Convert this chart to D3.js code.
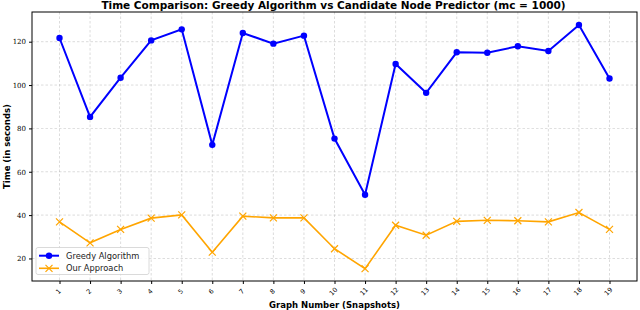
<!DOCTYPE html>
<html><head><meta charset="utf-8">
<script src="https://cdn.jsdelivr.net/npm/d3@7"></script>
<style>body{margin:0;background:#fff}svg{display:block}</style>
</head><body>
<svg id="c" width="640" height="310"></svg>
<script>
const graphs = [1,2,3,4,5,6,7,8,9,10,11,12,13,14,15,16,17,18,19];
const greedy = [121.7,85.3,103.4,120.6,125.7,72.4,124.0,119.1,122.8,75.3,49.4,109.7,96.4,115.1,114.9,117.9,115.7,127.7,103.0];
const ours = [36.9,27.2,33.4,38.6,40.1,22.9,39.5,38.7,38.7,24.5,15.3,35.3,30.7,37.1,37.6,37.4,36.9,41.2,33.4];
const yTicks = [20,40,60,80,100,120];
const seriesNames = ["Greedy Algorithm","Our Approach"];

const svg = d3.select("#c");
const L=32, R=637, T=12, B=281;
const x = d3.scaleLinear().domain([0.1,19.9]).range([L,R]);
const y = d3.scaleLinear().domain([9.6,133.7]).range([B,T]);

// grid
svg.append("g").selectAll("line").data(graphs).join("line")
  .attr("x1",d=>x(d)).attr("x2",d=>x(d)).attr("y1",T).attr("y2",B)
  .attr("stroke","#b0b0b0").attr("stroke-width",0.8).attr("stroke-dasharray","2.5,2").attr("opacity",0.55);
svg.append("g").selectAll("line").data(yTicks).join("line")
  .attr("x1",L).attr("x2",R).attr("y1",d=>y(d)).attr("y2",d=>y(d))
  .attr("stroke","#b0b0b0").attr("stroke-width",0.8).attr("stroke-dasharray","2.5,2").attr("opacity",0.55);

// axes
const yAx = svg.append("g").attr("transform",`translate(${L},0)`)
  .call(d3.axisLeft(y).tickValues(yTicks).tickSize(3).tickPadding(3));
yAx.select(".domain").remove();
yAx.selectAll("text").attr("font-family","DejaVu Serif").attr("font-size",7).attr("fill","#000");
const xAx = svg.append("g").attr("transform",`translate(0,${B})`)
  .call(d3.axisBottom(x).tickValues(graphs).tickSize(3).tickFormat(d3.format("d")));
xAx.select(".domain").remove();
xAx.selectAll("text").attr("font-family","DejaVu Sans").attr("font-size",6.5).attr("fill","#000")
  .attr("text-anchor","middle").attr("dy",0).attr("y",0)
  .attr("transform","translate(0,12) rotate(-45)");

svg.append("rect").attr("x",L).attr("y",T).attr("width",R-L).attr("height",B-T)
  .attr("fill","none").attr("stroke","#000").attr("stroke-width",1);

const line = d3.line().x((d,i)=>x(graphs[i])).y(d=>y(d));
svg.append("path").datum(greedy).attr("d",line).attr("fill","none").attr("stroke","#0000ff").attr("stroke-width",2);
svg.append("g").selectAll("circle").data(greedy).join("circle")
  .attr("cx",(d,i)=>x(graphs[i])).attr("cy",d=>y(d)).attr("r",3.2).attr("fill","#0000ff");
svg.append("path").datum(ours).attr("d",line).attr("fill","none").attr("stroke","#ffa500").attr("stroke-width",1.6);
const xm = (g,cx,cy,s)=>g.append("path").attr("d",`M${cx-s},${cy-s}L${cx+s},${cy+s}M${cx-s},${cy+s}L${cx+s},${cy-s}`)
  .attr("stroke","#ffa500").attr("stroke-width",1.2).attr("fill","none");
const mg = svg.append("g");
ours.forEach((d,i)=>xm(mg,x(graphs[i]),y(d),3.5));

// legend
const lg = svg.append("g");
lg.append("rect").attr("x",36).attr("y",247.5).attr("width",113).attr("height",27).attr("rx",2)
  .attr("fill","#fff").attr("fill-opacity",0.85).attr("stroke","#d0d0d0").attr("stroke-width",0.8);
lg.append("line").attr("x1",39).attr("x2",59).attr("y1",255.7).attr("y2",255.7).attr("stroke","#0000ff").attr("stroke-width",2);
lg.append("circle").attr("cx",49).attr("cy",255.7).attr("r",3.2).attr("fill","#0000ff");
lg.append("line").attr("x1",39).attr("x2",59).attr("y1",268.3).attr("y2",268.3).attr("stroke","#ffa500").attr("stroke-width",1.6);
xm(lg,49,268.3,3.5);
lg.selectAll("text").data(seriesNames).join("text")
  .attr("x",66).attr("y",(d,i)=>258.7+i*12.6).attr("font-family","DejaVu Sans").attr("font-size",8.3).attr("fill","#222").text(d=>d);

// labels
svg.append("text").attr("x",(L+R)/2-1).attr("y",9).attr("text-anchor","middle")
  .attr("font-family","DejaVu Sans").attr("font-weight","bold").attr("font-size",10.5)
  .text("Time Comparison: Greedy Algorithm vs Candidate Node Predictor (mc = 1000)");
svg.append("text").attr("x",(L+R)/2).attr("y",308).attr("text-anchor","middle")
  .attr("font-family","DejaVu Sans").attr("font-weight","bold").attr("font-size",8.5)
  .text("Graph Number (Snapshots)");
svg.append("text").attr("transform",`translate(10,${(T+B)/2}) rotate(-90)`).attr("text-anchor","middle")
  .attr("font-family","DejaVu Sans").attr("font-weight","bold").attr("font-size",8.5)
  .text("Time (in seconds)");
</script>
</body></html>
